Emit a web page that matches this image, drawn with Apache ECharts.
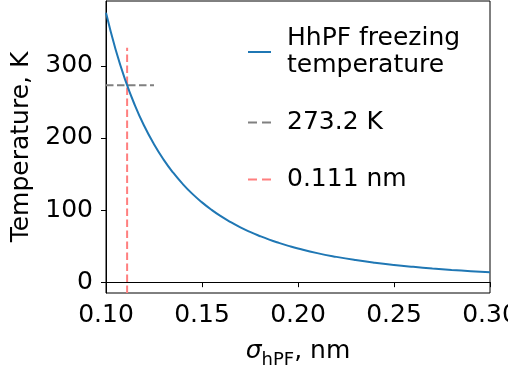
<!DOCTYPE html>
<html><head><meta charset="utf-8">
<script src="https://cdn.jsdelivr.net/npm/echarts@6/dist/echarts.min.js"></script>
<style>html,body{margin:0;padding:0;background:#fff}#c{width:508px;height:369px}</style>
</head><body><div id="c"></div>
<script>
// sigma_hPF (nm) and freezing temperature (K)
const sigma = [0.100,0.105,0.110,0.115,0.120,0.125,0.130,0.135,0.140,0.145,0.150,0.155,0.160,0.165,0.170,0.175,0.180,0.185,0.190,0.195,0.200,0.210,0.220,0.230,0.240,0.250,0.260,0.270,0.280,0.290,0.300];
const tempK = [373.6,322.7,280.7,245.6,216.2,191.3,170.0,151.8,136.1,122.5,110.7,100.3,91.2,83.2,76.0,69.7,64.1,59.0,54.5,50.4,46.7,40.3,35.1,30.7,27.0,23.9,21.3,19.0,17.0,15.3,13.8];
const refTempX = [0.100, 0.125];
const refTempY = [273.2, 273.2];
const refSigmaX = [0.111, 0.111];
const refSigmaY = [-15, 325];
const xTicks = [0.10, 0.15, 0.20, 0.25, 0.30];
const yTicks = [0, 100, 200, 300];
const names = ['HhPF freezing\ntemperature', '273.2 K', '0.111 nm'];

const FONT = 'DejaVu Sans';
const FS = 25;
const SOLID = 'path://M0,0H23V2H0Z';
const DASHED = 'path://M0,0H9V2H0Z M14,0H23V2H14Z';
const chart = echarts.init(document.getElementById('c'), null, {renderer: 'canvas'});
const zip = (a, b) => a.map((v, i) => [v, b[i]]);
chart.setOption({
  animation: false,
  textStyle: {fontFamily: FONT},
  grid: {left: 106, right: 18, top: 1, bottom: 76, show: true, borderColor: '#000', borderWidth: 1,
         containLabel: false, outerBoundsMode: 'none'},
  legend: {
    orient: 'vertical', left: 243, top: 20, itemWidth: 23, itemHeight: 2, itemGap: 30,
    data: [{name: names[0], icon: SOLID}, {name: names[1], icon: DASHED}, {name: names[2], icon: DASHED}],
    textStyle: {fontSize: FS, color: '#000', fontFamily: FONT, lineHeight: 27, padding: [0, 0, 0, 11]},
    selectedMode: false
  },
  xAxis: {
    type: 'value', min: 0.1, max: 0.3, interval: 0.05,
    axisLine: {lineStyle: {color: '#000', width: 1}},
    axisTick: {length: 5, lineStyle: {color: '#000'}},
    splitLine: {show: false},
    axisLabel: {fontSize: FS, color: '#000', margin: 10, fontFamily: FONT, formatter: v => v.toFixed(2),
                showMaxLabel: true, showMinLabel: true, hideOverlap: false},
    name: '{s|σ}{sub|hPF}{n|, nm}', nameLocation: 'middle', nameGap: 43,
    nameTextStyle: {fontSize: FS, color: '#000', fontFamily: FONT, rich: {
      s: {fontSize: FS, fontStyle: 'italic', fontFamily: FONT, verticalAlign: 'bottom', lineHeight: 28},
      sub: {fontSize: 18, fontFamily: FONT, verticalAlign: 'bottom', lineHeight: 28, padding: [0, 0, -5, 0]},
      n: {fontSize: FS, fontFamily: FONT, verticalAlign: 'bottom', lineHeight: 28}
    }}
  },
  yAxis: {
    type: 'value', min: -15, max: 390,
    axisLine: {lineStyle: {color: '#000', width: 1}},
    axisTick: {length: 5, lineStyle: {color: '#000'}, customValues: yTicks},
    splitLine: {show: false},
    axisLabel: {fontSize: FS, color: '#000', margin: 13, fontFamily: FONT, customValues: yTicks},
    name: 'Temperature, K', nameLocation: 'middle', nameGap: 68,
    nameTextStyle: {fontSize: FS, color: '#000', fontFamily: FONT}
  },
  series: [
    {name: names[0], type: 'line', data: zip(sigma, tempK), showSymbol: false, symbol: 'none', smooth: true,
     lineStyle: {color: '#1f77b4', width: 2}, itemStyle: {color: '#1f77b4'}, z: 3},
    {name: names[1], type: 'line', data: zip(refTempX, refTempY), showSymbol: false, symbol: 'none',
     lineStyle: {color: '#808080', width: 2, type: [7.5, 3.5]}, itemStyle: {color: '#808080'}, z: 2},
    {name: names[2], type: 'line', data: zip(refSigmaX, refSigmaY), showSymbol: false, symbol: 'none',
     lineStyle: {color: '#ff7f7f', width: 2, type: [7.5, 3.5]}, itemStyle: {color: '#ff7f7f'}, z: 2}
  ]
});
</script></body></html>
